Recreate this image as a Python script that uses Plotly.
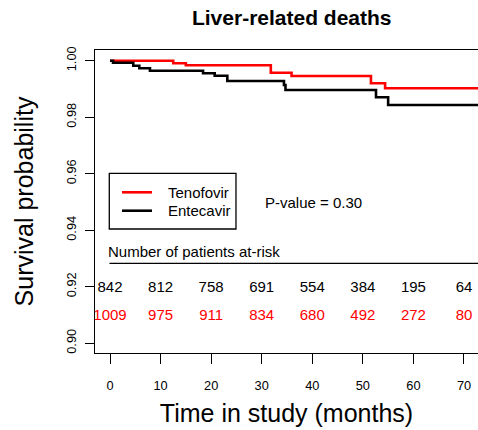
import plotly.graph_objects as go

# Kaplan-Meier step data (months, survival probability)
teno_time = [0, 12.5, 15.0, 31.8, 35.9, 51.6, 54.4, 73]
teno_surv = [1.0, 0.99908, 0.99837, 0.99575, 0.99459, 0.99200, 0.99023, 0.99023]
ente_time = [0, 0.6, 4.6, 5.8, 7.9, 18.4, 20.7, 23.2, 34.4, 34.7, 52.6, 55.0, 73]
ente_surv = [1.0, 0.99929, 0.99823, 0.99731, 0.99646, 0.99554, 0.99469, 0.99282,
             0.99140, 0.98963, 0.98705, 0.98432, 0.98432]

# Number at risk
risk_times = [0, 10, 20, 30, 40, 50, 60, 70]
ente_risk = [842, 812, 758, 691, 554, 384, 195, 64]
teno_risk = [1009, 975, 911, 834, 680, 492, 272, 80]

series_names = ["Tenofovir", "Entecavir"]
series_colors = ["#ff0000", "#000000"]

x_ticks = [0, 10, 20, 30, 40, 50, 60, 70]
y_ticks = [0.90, 0.92, 0.94, 0.96, 0.98, 1.00]
y_ticklabels = ["0.90", "0.92", "0.94", "0.96", "0.98", "1.00"]

FONT = "Liberation Sans, Arial, Helvetica, sans-serif"

fig = go.Figure()
fig.add_trace(go.Scatter(x=teno_time, y=teno_surv, mode="lines", line_shape="hv",
                         line=dict(color=series_colors[0], width=2.6), name=series_names[0]))
fig.add_trace(go.Scatter(x=ente_time, y=ente_surv, mode="lines", line_shape="hv",
                         line=dict(color=series_colors[1], width=2.6), name=series_names[1]))

fig.add_trace(go.Scatter(x=risk_times, y=[0.9196] * len(risk_times), mode="text",
                         text=[str(v) for v in ente_risk], showlegend=False,
                         textfont=dict(size=15, color="#000000", family=FONT),
                         cliponaxis=False, hoverinfo="skip"))
fig.add_trace(go.Scatter(x=risk_times, y=[0.9096] * len(risk_times), mode="text",
                         text=[str(v) for v in teno_risk], showlegend=False,
                         textfont=dict(size=15, color="#ff0000", family=FONT),
                         cliponaxis=False, hoverinfo="skip"))

fig.add_annotation(x=-0.8, y=0.9323, xref="x", yref="y", text="Number of patients at-risk",
                   showarrow=False, xanchor="left", yanchor="middle",
                   font=dict(size=15, color="#000000", family=FONT))
fig.add_shape(type="line", xref="x", yref="y", x0=-0.1, x1=80, y0=0.92828, y1=0.92828,
              line=dict(color="#000000", width=1.3))
fig.add_annotation(x=30.2, y=0.9497, xref="x", yref="y", text="P-value = 0.30",
                   showarrow=False, xanchor="left", yanchor="middle",
                   font=dict(size=15, color="#000000", family=FONT))

# Legend box (drawn to match the R-style legend)
fig.add_shape(type="rect", xref="paper", yref="paper", x0=0.0373, x1=0.3681,
              y0=0.4092, y1=0.5931, line=dict(color="#000000", width=1.3),
              fillcolor="white", layer="above")
for name, color, ly in zip(series_names, series_colors, [0.5304, 0.4696]):
    fig.add_shape(type="line", xref="paper", yref="paper", x0=0.0705, x1=0.1488,
                  y0=ly, y1=ly, line=dict(color=color, width=2.6), layer="above")
    fig.add_annotation(x=0.1846, y=ly, xref="paper", yref="paper", text=name,
                       showarrow=False, xanchor="left", yanchor="middle",
                       font=dict(size=15, color="#000000", family=FONT))

fig.update_layout(
    width=478, height=430,
    margin=dict(l=95, r=0, t=50, b=77),
    paper_bgcolor="white", plot_bgcolor="white",
    font=dict(family=FONT, color="#000000"),
    title=dict(text="<b>Liver-related deaths</b>", x=0.5137, xref="paper",
               y=1 - 18 / 430, yref="container", xanchor="center", yanchor="middle",
               font=dict(size=21, family=FONT, color="#000000")),
    showlegend=False,
)

fig.update_xaxes(range=[-2.966, 72.77], tickvals=x_ticks, ticks="outside", ticklen=10,
                 tickwidth=1, tickcolor="#000000", showline=True, linecolor="#000000",
                 linewidth=1.3, mirror=True, showgrid=False, zeroline=False,
                 tickfont=dict(size=12.8, family=FONT), ticklabelstandoff=10,
                 title=dict(text="Time in study (months)", font=dict(size=25, family=FONT),
                            standoff=12))
fig.update_yaxes(range=[0.89653, 1.00379], tickvals=y_ticks, ticktext=y_ticklabels,
                 ticks="outside", ticklen=9, tickwidth=1, tickcolor="#000000",
                 showline=True, linecolor="#000000", linewidth=1.3, mirror=False,
                 showgrid=False, zeroline=False, tickangle=-90,
                 tickfont=dict(size=12.8, family=FONT), ticklabelstandoff=4,
                 title=dict(text="Survival probability", font=dict(size=25, family=FONT),
                            standoff=22))

fig.write_html("out.html")
